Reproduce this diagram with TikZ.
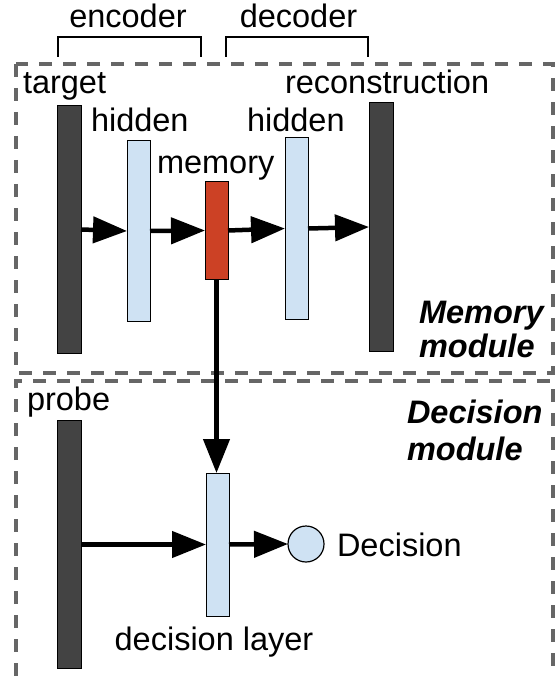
\documentclass[tikz,border=0pt]{standalone}
\usepackage{fontspec}
\setmainfont{Liberation Sans}
\usetikzlibrary{arrows.meta}
\definecolor{barDark}{HTML}{434343}
\definecolor{barBlue}{HTML}{CFE2F3}
\definecolor{barRed}{HTML}{CC4125}
\definecolor{dashGray}{HTML}{666666}
\begin{document}
\begin{tikzpicture}[x=1pt,y=-1pt,
  every node/.style={font=\fontsize{32.5pt}{39pt}\selectfont, inner sep=0pt, outer sep=0pt},
  layer/.style={draw=black, line width=1pt, rectangle, minimum width=#1},
  darklayer/.style={layer=24pt, fill=barDark},
  bluelayer/.style={layer=23pt, fill=barBlue},
  redlayer/.style={layer=23pt, fill=barRed},
  lbl/.style={anchor=base west},
  modlbl/.style={anchor=base west, font=\fontsize{32.5pt}{39pt}\selectfont\bfseries\itshape},
  flow/.style={line width=4.5pt, -{Triangle[length=34pt,width=26pt]}},
  modbox/.style={draw=dashGray, line width=3.5pt, dash pattern=on 13pt off 11pt},
  brace/.style={draw=black, line width=1.3pt}
]
\useasboundingbox (0,0) rectangle (556,676);

% module boxes
\draw[modbox] (16,64) rectangle (553,373);
\draw[modbox] (16,676) -- (16,381) -- (553,381) -- (553,676);

% brackets
\coordinate (e1) at (58,57); \coordinate (e2) at (58,37); \coordinate (e3) at (201,37); \coordinate (e4) at (201,57);
\draw[brace] (e1) -- (e2) -- (e3) -- (e4);
\coordinate (d1) at (226,57); \coordinate (d2) at (226,37); \coordinate (d3) at (368,37); \coordinate (d4) at (368,57);
\draw[brace] (d1) -- (d2) -- (d3) -- (d4);
\node (enc) [anchor=base] at (128,28) {encoder};
\node (decd) [anchor=base] at (298.5,28) {decoder};

% memory module layers
\node (target) [darklayer, minimum height=247pt] at (69,229.5) {};
\node (hid1) [bluelayer, minimum height=180pt] at (138.5,231) {};
\node (mem) [redlayer, minimum height=97pt] at (216.5,230.5) {};
\node (hid2) [bluelayer, minimum height=181pt] at (296.5,228.5) {};
\node (recon) [darklayer, minimum height=248pt] at (381,227) {};

\node (tTarget) [lbl] at (23,94) {target};
\node (tRecon) [lbl] at (285,94) {reconstruction};
\node (tHid1) [lbl] at (91,132) {hidden};
\node (tHid2) [lbl] at (247,132) {hidden};
\node (tMem) [lbl] at (157,174) {memory};
\node (tMemMod1) [modlbl] at (419,323) {Memory};
\node (tMemMod2) [modlbl] at (419,357) {module};

\draw[flow] (target.east) -- (hid1.west);
\draw[flow] (hid1.east) -- (mem.west);
\draw[flow] (mem.east) -- (hid2.west);
\draw[flow] (hid2.east) -- (recon.west);

% decision module
\node (probe) [darklayer, minimum height=248pt] at (69,544) {};
\node (dec) [bluelayer, minimum height=143pt] at (217.5,544.5) {};
\node (circ) [draw=black, line width=1.2pt, fill=barBlue, circle, minimum size=36pt] at (306,544) {};

\node (tProbe) [lbl] at (27,410) {probe};
\node (tDecision) [lbl] at (337,556) {Decision};
\node (tDecLayer) [anchor=base] at (214,650) {decision layer};
\node (tDecMod1) [modlbl] at (407,423) {Decision};
\node (tDecMod2) [modlbl] at (407,460) {module};

\draw[flow] (mem.south) -- (mem.south |- dec.north);
\draw[flow] (probe.east |- dec.west) -- (dec.west);
\draw[flow] (dec.east) -- (circ.west);
\end{tikzpicture}
\end{document}
